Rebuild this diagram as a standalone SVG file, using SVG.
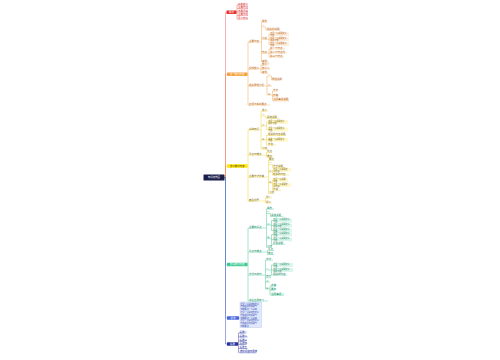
<svg xmlns="http://www.w3.org/2000/svg" width="500" height="360" viewBox="0 0 500 360">
<style>
text{font-family:"Noto Sans CJK SC","Noto Sans",sans-serif;font-size:2.5px}
.s text{font-size:2.05px}
.m text{font-size:2.4px;fill:#fff;text-anchor:middle}
g path{stroke-width:.4;fill:none}
.R text{fill:#d02a2a}.R path{stroke:#ef5350}.R rect{fill:#fde4e4}
.O text{fill:#b8640f}.O path{stroke:#f4a347}.O rect{fill:#fdeedd}
.Y text{fill:#7d6800}.Y path{stroke:#f0cf1a}.Y rect{fill:#fff8cc}
.G text{fill:#178a62}.G path{stroke:#39c895}.G rect{fill:#dcf6ec}
.B text{fill:#3149b5}.B path{stroke:#5874e2}.B rect{fill:#e2e8fb;stroke:#9aaeee;stroke-width:.3}
.N text{fill:#25309c}.N path{stroke:#2d3aa8}.N rect{fill:#e0e3f6}
#connectors path{fill:none;stroke-width:.45}
#connectors .cR{stroke:#ef5350}#connectors .cO{stroke:#f4a347}#connectors .cY{stroke:#f0cf1a}
#connectors .cG{stroke:#39c895}#connectors .cB{stroke:#5874e2}#connectors .cN{stroke:#2d3aa8}
</style>
<rect width="500" height="360" fill="#fff"/>
<g id="connectors">
<path class="cY" d="M224.5 177.5H225.5V166H227"/>
<path class="cO" d="M224.5 177.5H225.5V74.2H227"/>
<path class="cR" d="M224.5 177.5H225.5V12.2H226.5"/>
<path class="cG" d="M224.5 177.5H225.5V264.5H227"/>
<path class="cN" d="M224.5 177.5H225.5V344H227"/>
<path class="cB" d="M224.5 177.5H225.5V318H227"/>
<path class="cR" d="M236.5 12.2H237M237 5V19.2M237 5H238M237 8.4H238M237 11.9H238M237 15.6H238M237 19.2H238"/>
<path class="cO" d="M247.5 74.2H248M248 42V105M248 42H249M248 69H249M248 86H249M248 105H249"/>
<path class="cO" d="M261 42H261.5M261.5 22V62M261.5 22H262M261.5 27H262M261.5 39.2H262M261.5 53H262M261.5 62H262"/>
<path class="cO" d="M265 27H266V30H267"/>
<path class="cO" d="M268 39.2H269M269 34.2V44.2M269 34.2H270M269 39.2H270M269 44.2H270"/>
<path class="cO" d="M268 53H269M269 49V57M269 49H270M269 53H270M269 57H270"/>
<path class="cO" d="M260 69H261M261 65V73M261 65H262M261 69H262M261 73H262"/>
<path class="cO" d="M266 86H267M267 76V95M267 76H268M267 86H268M267 95H268"/>
<path class="cO" d="M271 76H271.5V80H272"/>
<path class="cO" d="M272 95H272.5M272.5 91V100.5M272.5 91H273M272.5 96H273M272.5 100.5H273"/>
<path class="cY" d="M247.5 166H248M248 130V201M248 130H249M248 155H249M248 177H249M248 201H249"/>
<path class="cY" d="M260 130H261M261 111V149M261 111H262M261 116H262M261 126H262M261 140H262M261 149H262"/>
<path class="cY" d="M265 116H266V118.5H267"/>
<path class="cY" d="M265 126H266.5M266.5 122V129.5M266.5 122H268M266.5 129.5H268"/>
<path class="cY" d="M265 140H266.5M266.5 135.5V145M266.5 135.5H268M266.5 139.8H268M266.5 145H268"/>
<path class="cY" d="M266 155H266.5M266.5 152.5V157M266.5 152.5H267M266.5 157H267"/>
<path class="cY" d="M268 177H268.5M268.5 160V193.5M268.5 160H269M268.5 164.5H269M268.5 172H269M268.5 183H269M268.5 193.5H269"/>
<path class="cY" d="M272 164.5H272.5V167.5H273"/>
<path class="cY" d="M272 172H272.5M272.5 170V175M272.5 170H273M272.5 175H273"/>
<path class="cY" d="M272 183H272.5M272.5 180V190.2M272.5 180H273M272.5 185.5H273M272.5 190.2H273"/>
<path class="cY" d="M265 201H265.5M265.5 198V203M265.5 198H266M265.5 203H266"/>
<path class="cG" d="M247.5 264.5H248M248 228V301M248 228H249M248 252H249M248 275H249M248 301H249"/>
<path class="cG" d="M266 228H266.5M266.5 209V247.2M266.5 209H267M266.5 213.5H267M266.5 225H267M266.5 238.5H267M266.5 247.2H267"/>
<path class="cG" d="M270 213.5H270.5V216.5H271"/>
<path class="cG" d="M270 225H271.5M271.5 220.5V230.5M271.5 220.5H273M271.5 225.5H273M271.5 230.5H273"/>
<path class="cG" d="M270 238.5H271.5M271.5 234.5V244.3M271.5 234.5H273M271.5 239.5H273M271.5 244.3H273"/>
<path class="cG" d="M267 252H267.5M267.5 250.5V254.5M267.5 250.5H268M267.5 254.5H268"/>
<path class="cG" d="M265 275H265.5M265.5 260V289M265.5 260H266M265.5 270H266M265.5 277.8H266M265.5 282H266M265.5 289H266"/>
<path class="cG" d="M269 270H271.5M271.5 265V275H273M271.5 265H273M271.5 270H273"/>
<path class="cG" d="M269 289H270M270 286V295M270 286H271M270 290H271M270 295H271"/>
<path class="cB" d="M239 318H240"/>
<path class="cN" d="M238 344H238.5M238.5 333V352.5M238.5 333H239.5M238.5 337H239.5M238.5 341H239.5M238.5 344.5H239.5M238.5 348.5H239.5M238.5 352.5H239.5"/>
</g>
<g id="root" class="m"><rect x="203.5" y="174.5" width="21" height="6" rx=".6" style="fill:#1c1e4a"/><text x="214" y="178.4">知识结构图</text></g>
<g id="red" class="m"><rect x="226.5" y="10.4" width="10" height="3.6" rx=".4" style="fill:#e8302c"/><text x="231.5" y="13">概述</text></g>
<g id="r1" class="R"><text x="238" y="4.6">基本定义</text><path d="M238 5h10"/></g>
<g id="r2" class="R"><text x="238" y="8">主要特点</text><path d="M238 8.4h10"/></g>
<g id="r3" class="R"><text x="238" y="11.5">发展历程</text><path d="M238 11.9h10"/></g>
<g id="r4" class="R"><text x="238" y="15.2">主要作用</text><path d="M238 15.6h10"/></g>
<g id="r5" class="R"><text x="238" y="18.8">意义价值</text><path d="M238 19.2h10"/></g>
<g id="orange" class="m"><rect x="227" y="72.4" width="20.5" height="3.6" rx=".4" style="fill:#f5a23e"/><text x="237.2" y="75">第一部分内容</text></g>
<g id="oA" class="O"><text x="249" y="41.6">主要内容</text><path d="M249 42h12"/></g>
<g id="oA1" class="O"><text x="262" y="21.6">概念</text><path d="M262 22h6"/></g>
<g id="oA2" class="O"><text x="262" y="26.6">一</text><path d="M262 27h3"/></g>
<g id="oA2a" class="O"><text x="267" y="29.6">相关的说明</text><path d="M267 30h13"/></g>
<g id="oA3" class="O"><text x="262" y="38.8">分类</text><path d="M262 39.2h6"/></g>
<g id="oA3a" class="O s"><rect x="270" y="32.3" width="19" height="3.8"/><text x="270.3" y="33.9">这是一段说明文字</text><text x="270.3" y="35.8">内容</text></g>
<g id="oA3b" class="O s"><rect x="270" y="37.3" width="19" height="3.8"/><text x="270.3" y="38.9">这是一段说明文字</text><text x="270.3" y="40.8">相关内容</text></g>
<g id="oA3c" class="O s"><rect x="270" y="42.3" width="19" height="3.8"/><text x="270.3" y="43.9">这是一段说明文字</text><text x="270.3" y="45.8">内容</text></g>
<g id="oA4" class="O"><text x="262" y="52.6">特点</text><path d="M262 53h6"/></g>
<g id="oA4a" class="O"><text x="270" y="48.6">第一个特点</text><path d="M270 49h15"/></g>
<g id="oA4b" class="O"><text x="270" y="52.6">第二个特点内</text><path d="M270 53h17"/></g>
<g id="oA4c" class="O"><text x="270" y="56.6">第三个特点</text><path d="M270 57h14"/></g>
<g id="oA5" class="O"><text x="262" y="61.6">其他</text><path d="M262 62h7"/></g>
<g id="oB" class="O"><text x="249" y="68.6">组成部分</text><path d="M249 69h11"/></g>
<g id="oB1" class="O"><text x="262" y="64.6">部分一</text><path d="M262 65h7"/></g>
<g id="oB2" class="O"><text x="262" y="68.6">部分二</text><path d="M262 69h8"/></g>
<g id="oB3" class="O"><text x="262" y="72.6">其他</text><path d="M262 73h6"/></g>
<g id="oC" class="O"><text x="249" y="85.6">相关原理分析</text><path d="M249 86h17"/></g>
<g id="oC1" class="O"><text x="268" y="75.6">一</text><path d="M268 76h3"/></g>
<g id="oC1a" class="O"><text x="272" y="79.6">原理说明</text><path d="M272 80h8"/></g>
<g id="oC2" class="O"><text x="268" y="85.6">二</text><path d="M268 86h4"/></g>
<g id="oC3" class="O"><text x="268" y="94.6">三</text><path d="M268 95h4"/></g>
<g id="oC3a" class="O"><text x="273" y="90.6">方法</text><path d="M273 91h5"/></g>
<g id="oC3b" class="O"><text x="273" y="95.6">步骤</text><path d="M273 96h6"/></g>
<g id="oC3c" class="O"><rect x="273" y="98.3" width="16" height="2.6"/><text x="273.3" y="100.2">注意事项说明</text><path d="M273 100.9h16"/></g>
<g id="oD" class="O"><text x="249" y="104.6">应用与实践要点</text><path d="M249 105h21"/></g>
<g id="yellow" class="m"><rect x="227" y="164.2" width="20.5" height="3.6" rx=".4" style="fill:#ffe500"/><text x="237.2" y="166.8" style="fill:#333">第二部分内容</text></g>
<g id="yA" class="Y"><text x="249" y="129.6">基础知识</text><path d="M249 130h11"/></g>
<g id="yA1" class="Y"><text x="262" y="110.6">定义</text><path d="M262 111h6"/></g>
<g id="yA2" class="Y"><text x="262" y="115.6">一</text><path d="M262 116h3"/></g>
<g id="yA2a" class="Y"><text x="267" y="118.1">具体说明</text><path d="M267 118.5h12"/></g>
<g id="yA3" class="Y"><text x="262" y="125.6">二</text><path d="M262 126h3"/></g>
<g id="yA3a" class="Y s"><rect x="268" y="120.1" width="20" height="3.8"/><text x="268.3" y="121.7">这是一段说明文字</text><text x="268.3" y="123.6">相关内容</text></g>
<g id="yA3b" class="Y s"><rect x="268" y="127.6" width="20" height="3.8"/><text x="268.3" y="129.2">这是一段说明文字</text><text x="268.3" y="131.1">内容</text></g>
<g id="yA4" class="Y"><text x="262" y="139.6">三</text><path d="M262 140h3"/></g>
<g id="yA4a" class="Y"><text x="268" y="135.1">相关的内容说明</text><path d="M268 135.5h18"/></g>
<g id="yA4b" class="Y s"><rect x="268" y="137.9" width="20" height="3.8"/><text x="268.3" y="139.5">这是一段说明文字</text><text x="268.3" y="141.4">内容</text></g>
<g id="yA4c" class="Y"><text x="268" y="144.6">补充</text><path d="M268 145h8"/></g>
<g id="yA5" class="Y"><text x="262" y="148.6">小结</text><path d="M262 149h6"/></g>
<g id="yB" class="Y"><text x="249" y="154.6">重点与难点</text><path d="M249 155h17"/></g>
<g id="yB1" class="Y"><text x="267" y="152.1">重点</text><path d="M267 152.5h5"/></g>
<g id="yB2" class="Y"><text x="267" y="156.6">难点</text><path d="M267 157h6"/></g>
<g id="yC" class="Y"><text x="249" y="176.6">主要方法步骤</text><path d="M249 177h19"/></g>
<g id="yC1" class="Y"><text x="269" y="159.6">要点</text><path d="M269 160h5"/></g>
<g id="yC2" class="Y"><text x="269" y="164.1">一</text><path d="M269 164.5h3"/></g>
<g id="yC2a" class="Y"><text x="273" y="167.1">方法说明</text><path d="M273 167.5h12"/></g>
<g id="yC3" class="Y"><text x="269" y="171.6">二</text><path d="M269 172h3"/></g>
<g id="yC3a" class="Y s"><rect x="273" y="168.1" width="18" height="3.8"/><text x="273.3" y="169.7">这是一段说明文</text><text x="273.3" y="171.6">字内容</text></g>
<g id="yC3b" class="Y"><text x="273" y="174.6">相关的内容</text><path d="M273 175h16"/></g>
<g id="yC4" class="Y"><text x="269" y="182.6">三</text><path d="M269 183h3"/></g>
<g id="yC4a" class="Y s"><rect x="273" y="178.1" width="15" height="3.8"/><text x="273.3" y="179.7">这是一段说明</text><text x="273.3" y="181.6">内容</text></g>
<g id="yC4b" class="Y s"><rect x="273" y="183.3" width="18" height="3.8"/><text x="273.3" y="184.9">这是一段说明文</text><text x="273.3" y="186.8">字内容</text></g>
<g id="yC4c" class="Y"><text x="273" y="189.8">补充</text><path d="M273 190.2h8"/></g>
<g id="yC5" class="Y"><text x="269" y="193.1">小结</text><path d="M269 193.5h5"/></g>
<g id="yD" class="Y"><text x="249" y="200.6">典型例题</text><path d="M249 201h16"/></g>
<g id="yD1" class="Y"><text x="266" y="197.6">例一</text><path d="M266 198h6"/></g>
<g id="yD2" class="Y"><text x="266" y="202.6">例二</text><path d="M266 203h6"/></g>
<g id="green" class="m"><rect x="227" y="262.7" width="20.5" height="3.6" rx=".4" style="fill:#3ecb93"/><text x="237.2" y="265.3">第三部分内容</text></g>
<g id="gA" class="G"><text x="249" y="227.6">主要知识点</text><path d="M249 228h17"/></g>
<g id="gA1" class="G"><text x="267" y="208.6">概念</text><path d="M267 209h7"/></g>
<g id="gA2" class="G"><text x="267" y="213.1">一</text><path d="M267 213.5h3"/></g>
<g id="gA2a" class="G"><text x="271" y="216.1">具体说明</text><path d="M271 216.5h12"/></g>
<g id="gA3" class="G"><text x="267" y="224.6">二</text><path d="M267 225h3"/></g>
<g id="gA3a" class="G s"><rect x="273" y="218.6" width="19" height="3.8"/><text x="273.3" y="220.2">这是一段说明文字</text><text x="273.3" y="222.1">内容</text></g>
<g id="gA3b" class="G s"><rect x="273" y="223.6" width="19" height="3.8"/><text x="273.3" y="225.2">这是一段说明文字</text><text x="273.3" y="227.1">相关内容</text></g>
<g id="gA3c" class="G s"><rect x="273" y="228.6" width="19" height="3.8"/><text x="273.3" y="230.2">这是一段说明文字</text><text x="273.3" y="232.1">内容</text></g>
<g id="gA4" class="G"><text x="267" y="238.1">三</text><path d="M267 238.5h3"/></g>
<g id="gA4a" class="G s"><rect x="273" y="232.7" width="19" height="3.6"/><text x="273.3" y="234.2">这是一段说明文字</text><text x="273.3" y="236.1">内容</text></g>
<g id="gA4b" class="G s"><rect x="273" y="237.7" width="19" height="3.6"/><text x="273.3" y="239.2">这是一段说明文字</text><text x="273.3" y="241.1">内容</text></g>
<g id="gA4c" class="G"><text x="273" y="243.9">补充说明</text><path d="M273 244.3h12"/></g>
<g id="gA5" class="G"><text x="267" y="246.8">小结</text><path d="M267 247.2h5"/></g>
<g id="gB" class="G"><text x="249" y="251.6">重点与难点</text><path d="M249 252h18"/></g>
<g id="gB1" class="G"><text x="268" y="250.1">重点</text><path d="M268 250.5h6"/></g>
<g id="gB2" class="G"><text x="268" y="254.1">难点</text><path d="M268 254.5h6"/></g>
<g id="gC" class="G"><text x="249" y="274.6">方法与技巧</text><path d="M249 275h16"/></g>
<g id="gC1" class="G"><text x="266" y="259.6">方法</text><path d="M266 260h7"/></g>
<g id="gC2" class="G"><text x="266" y="269.6">一</text><path d="M266 270h3"/></g>
<g id="gC2a" class="G s"><rect x="273" y="263.1" width="20" height="3.8"/><text x="273.3" y="264.7">这是一段说明文字</text><text x="273.3" y="266.6">内容</text></g>
<g id="gC2b" class="G s"><rect x="273" y="268.1" width="20" height="3.8"/><text x="273.3" y="269.7">这是一段说明文字</text><text x="273.3" y="271.6">相关内容</text></g>
<g id="gC2c" class="G"><text x="273" y="274.6">相关的内容</text><path d="M273 275h14"/></g>
<g id="gC3" class="G"><text x="266" y="277.4">技巧</text><path d="M266 277.8h5"/></g>
<g id="gC4" class="G"><text x="266" y="281.6">二</text><path d="M266 282h4"/></g>
<g id="gC5" class="G"><text x="266" y="288.6">三</text><path d="M266 289h3"/></g>
<g id="gC5a" class="G"><text x="271" y="285.6">步骤</text><path d="M271 286h5"/></g>
<g id="gC5b" class="G"><text x="271" y="289.6">要求</text><path d="M271 290h5"/></g>
<g id="gC5c" class="G"><rect x="271" y="292.6" width="13" height="2.6"/><text x="271.3" y="294.5">注意事项</text><path d="M271 295.2h13"/></g>
<g id="gD" class="G"><text x="249" y="300.6">综合应用练习</text><path d="M249 301h19"/></g>
<g id="blue" class="m"><rect x="227" y="316.2" width="12" height="3.6" rx=".4" style="fill:#4a68e0"/><text x="233" y="318.8">总结</text></g>
<g id="bBox" class="B s"><rect x="240" y="302" width="21.5" height="25.5" rx=".4"/>
<text x="240.5" y="304.6">这是一段总结的文字</text>
<text x="240.5" y="307.4">内容相关的说明与</text>
<text x="240.5" y="310.2">归纳要点一二三四</text>
<text x="240.5" y="313">这是一段总结的文字</text>
<text x="240.5" y="315.8">内容相关的说明与</text>
<text x="240.5" y="318.6">归纳要点一二三四</text>
<text x="240.5" y="321.4">这是一段总结的文字</text>
<text x="240.5" y="324.2">内容相关的说明与</text>
<text x="240.5" y="327">归纳要点</text></g>
<g id="navy" class="m"><rect x="227" y="342.2" width="11" height="3.6" rx=".4" style="fill:#26329e"/><text x="232.5" y="344.8">拓展</text></g>
<g id="n1" class="N"><text x="239.5" y="332.6">拓展一</text><path d="M239.5 333h7"/></g>
<g id="n2" class="N"><text x="239.5" y="336.6">拓展二</text><path d="M239.5 337h8"/></g>
<g id="n3" class="N"><text x="239.5" y="340.6">拓展三</text><path d="M239.5 341h7"/></g>
<g id="n4" class="N"><text x="239.5" y="344.1">拓展四</text><path d="M239.5 344.5h7"/></g>
<g id="n5" class="N"><text x="239.5" y="348.1">拓展五</text><path d="M239.5 348.5h8"/></g>
<g id="n6" class="N"><rect x="239.5" y="350.2" width="17" height="2.6"/><text x="239.8" y="352.1">课外阅读与思考</text><path d="M239.5 352.8h17"/></g>
</svg>
